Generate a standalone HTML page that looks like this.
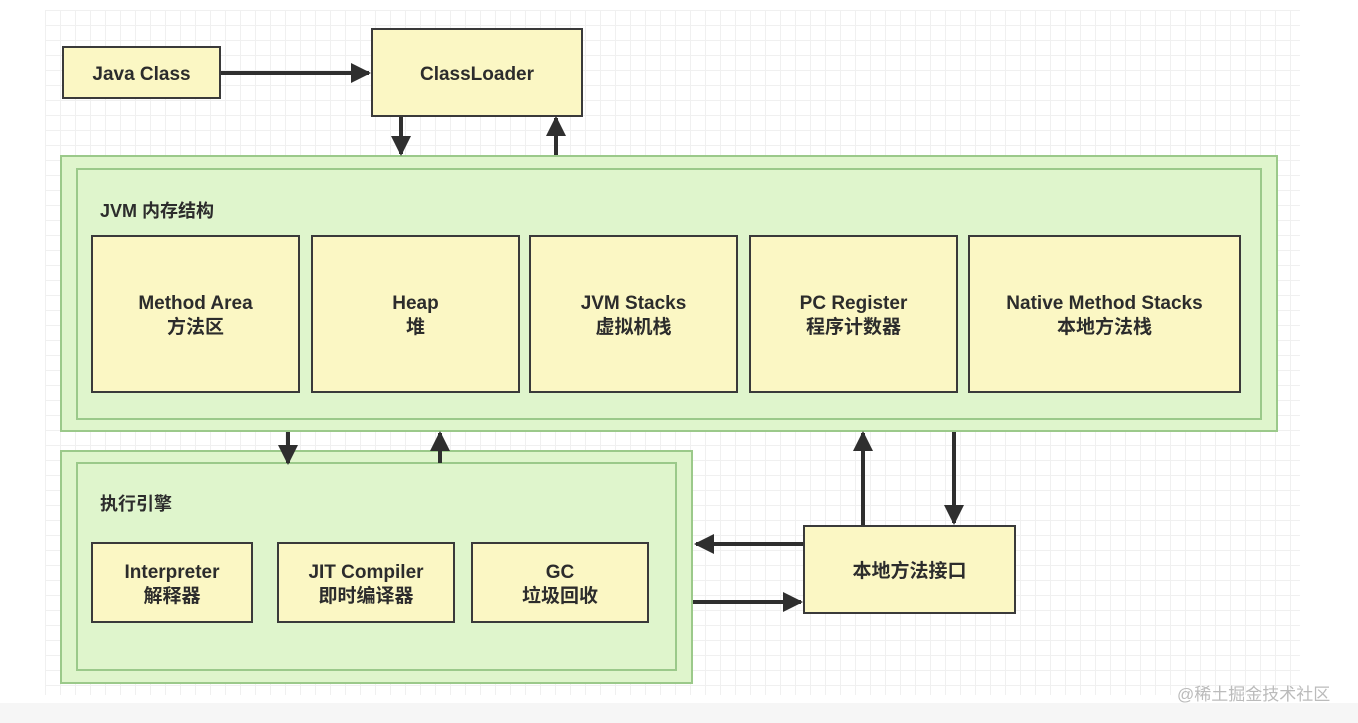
<!DOCTYPE html>
<html><head><meta charset="utf-8"><style>
body{margin:0;width:1358px;height:723px;position:relative;overflow:hidden;background:#fff;font-family:"Liberation Sans","Noto Sans CJK SC",sans-serif;}
.grid{position:absolute;left:45px;top:10px;width:1255px;height:685px;background-image:linear-gradient(#f0f0f0 1px,transparent 1px),linear-gradient(90deg,#f0f0f0 1px,transparent 1px);background-size:15px 15px;}
.b{position:absolute;box-sizing:border-box;}
.y{background:#fbf7c4;border:2px solid #3a3a3a;display:flex;flex-direction:column;align-items:center;justify-content:center;font-weight:bold;color:#2c2c2c;font-size:19px;line-height:24px;text-align:center;padding-top:4px;}
.g{background:#dff5cc;border:2px solid #9bc98a;}
.lbl{position:absolute;font-weight:bold;font-size:18px;color:#2c2c2c;}
</style></head><body>
<div class="grid"></div>
<div class="b" style="left:0;top:703px;width:1358px;height:20px;background:#f6f6f6"></div>
<div class="b y" style="left:62px;top:46px;width:159px;height:53px">Java Class</div>
<div class="b y" style="left:371px;top:28px;width:212px;height:89px">ClassLoader</div>
<div class="b g" style="left:60px;top:155px;width:1218px;height:277px"></div>
<div class="b g" style="left:76px;top:168px;width:1186px;height:252px"></div>
<div class="lbl" style="left:100px;top:197px">JVM 内存结构</div>
<div class="b y" style="left:91px;top:235px;width:209px;height:158px"><div>Method Area</div><div>方法区</div></div>
<div class="b y" style="left:311px;top:235px;width:209px;height:158px"><div>Heap</div><div>堆</div></div>
<div class="b y" style="left:529px;top:235px;width:209px;height:158px"><div>JVM Stacks</div><div>虚拟机栈</div></div>
<div class="b y" style="left:749px;top:235px;width:209px;height:158px"><div>PC Register</div><div>程序计数器</div></div>
<div class="b y" style="left:968px;top:235px;width:273px;height:158px"><div>Native Method Stacks</div><div>本地方法栈</div></div>
<div class="b g" style="left:60px;top:450px;width:633px;height:234px"></div>
<div class="b g" style="left:76px;top:462px;width:601px;height:209px"></div>
<div class="lbl" style="left:100px;top:490px">执行引擎</div>
<div class="b y" style="left:91px;top:542px;width:162px;height:81px"><div>Interpreter</div><div>解释器</div></div>
<div class="b y" style="left:277px;top:542px;width:178px;height:81px"><div>JIT Compiler</div><div>即时编译器</div></div>
<div class="b y" style="left:471px;top:542px;width:178px;height:81px"><div>GC</div><div>垃圾回收</div></div>
<div class="b y" style="left:803px;top:525px;width:213px;height:89px">本地方法接口</div>
<svg width="1358" height="723" style="position:absolute;left:0;top:0">
<defs><marker id="a" viewBox="0 0 10 10" refX="9" refY="5" markerWidth="5" markerHeight="5" orient="auto" markerUnits="strokeWidth"><path d="M0,0L10,5L0,10z" fill="#2f2f2f"/></marker></defs>
<g stroke="#2f2f2f" stroke-width="4" marker-end="url(#a)">
<line x1="221" y1="73" x2="369" y2="73"/>
<line x1="401" y1="117" x2="401" y2="154"/>
<line x1="556" y1="155" x2="556" y2="118"/>
<line x1="288" y1="432" x2="288" y2="463"/>
<line x1="440" y1="463" x2="440" y2="433"/>
<line x1="863" y1="525" x2="863" y2="433"/>
<line x1="954" y1="432" x2="954" y2="523"/>
<line x1="803" y1="544" x2="696" y2="544"/>
<line x1="693" y1="602" x2="801" y2="602"/>
</g></svg>
<div style="position:absolute;left:1177px;top:680px;font-size:17px;color:#bbb">@稀土掘金技术社区</div>
</body></html>
